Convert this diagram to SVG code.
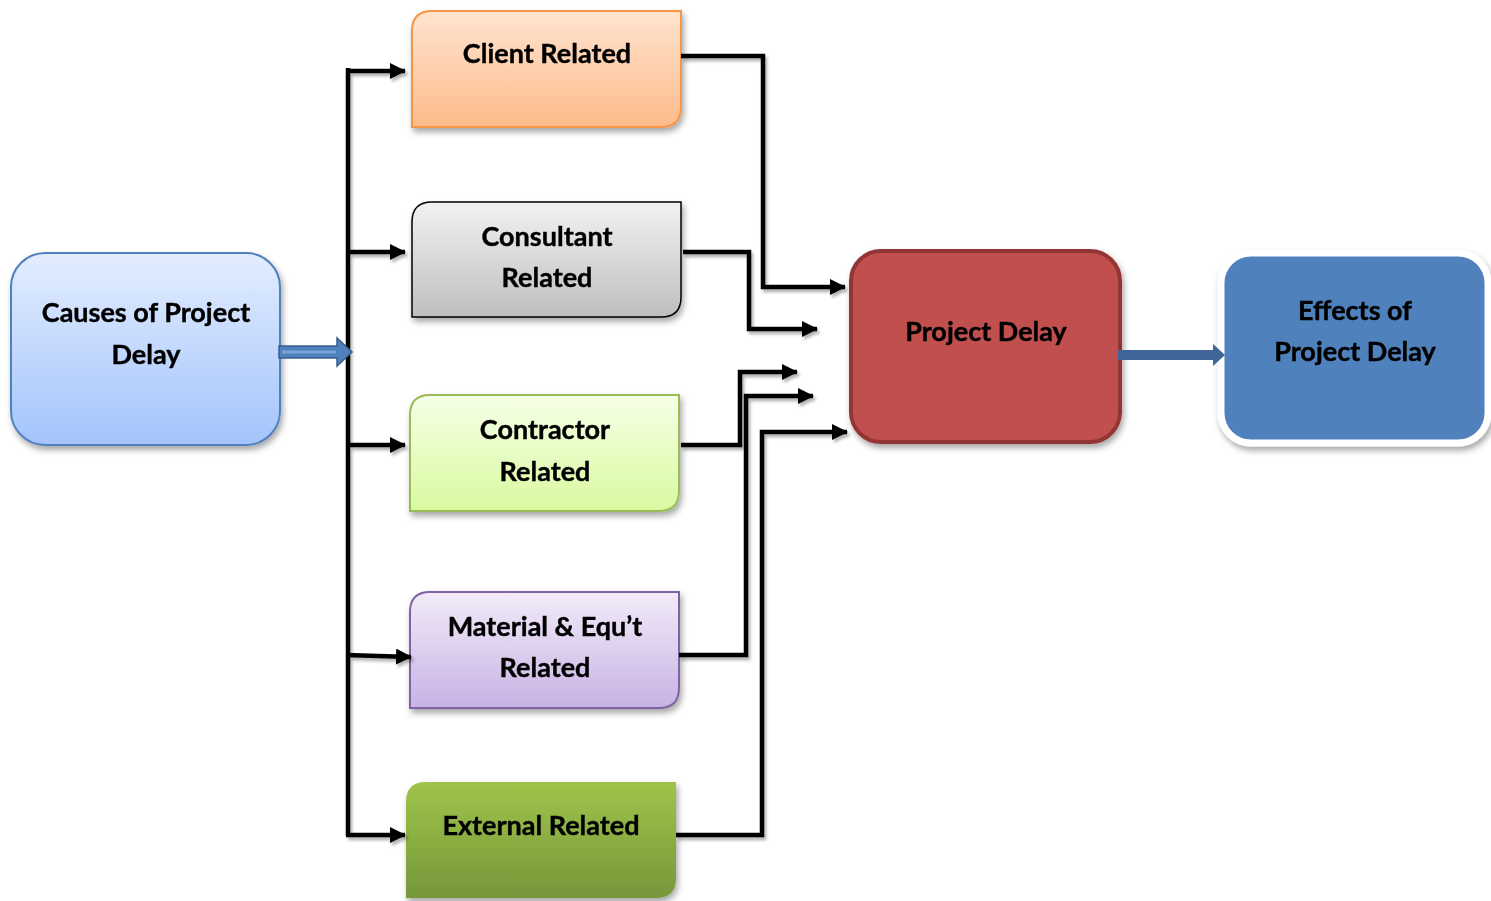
<svg xmlns="http://www.w3.org/2000/svg" width="1491" height="901" viewBox="0 0 1491 901">
  <defs>
    <style>
      .lbl { font-family: Lato, "Open Sans", "Liberation Sans", sans-serif; font-weight: bold; font-size: 27px; fill: #000; text-anchor: middle; stroke: #000; stroke-width: 0.4; }
      .wire { fill: none; stroke: #000; stroke-width: 4.5; stroke-linejoin: miter; }
    </style>
    <filter id="shadow" x="-10%" y="-10%" width="130%" height="130%">
      <feDropShadow dx="2" dy="4" stdDeviation="3" flood-color="#000" flood-opacity="0.35"/>
    </filter>
    <filter id="lineShadow" x="-10%" y="-10%" width="130%" height="130%">
      <feDropShadow dx="2" dy="3" stdDeviation="1.5" flood-color="#000" flood-opacity="0.3"/>
    </filter>
    <marker id="head" markerUnits="userSpaceOnUse" markerWidth="16" markerHeight="16" viewBox="0 0 16 16" refX="15" refY="8" orient="auto">
      <path d="M0,0 L16,8 L0,16 Z" fill="#000"/>
    </marker>
    <linearGradient id="gCauses" x1="0" y1="0" x2="0" y2="1">
      <stop offset="0" stop-color="#e3edff"/>
      <stop offset="1" stop-color="#a3c4fb"/>
    </linearGradient>
    <linearGradient id="gClient" x1="0" y1="0" x2="0" y2="1">
      <stop offset="0" stop-color="#ffe4cf"/>
      <stop offset="1" stop-color="#fdbb8b"/>
    </linearGradient>
    <linearGradient id="gConsult" x1="0" y1="0" x2="0" y2="1">
      <stop offset="0" stop-color="#f2f2f2"/>
      <stop offset="1" stop-color="#bebebe"/>
    </linearGradient>
    <linearGradient id="gContract" x1="0" y1="0" x2="0" y2="1">
      <stop offset="0" stop-color="#f6ffe8"/>
      <stop offset="1" stop-color="#d8fa9f"/>
    </linearGradient>
    <linearGradient id="gMaterial" x1="0" y1="0" x2="0" y2="1">
      <stop offset="0" stop-color="#f2ebf9"/>
      <stop offset="1" stop-color="#c8b2e4"/>
    </linearGradient>
    <linearGradient id="gExternal" x1="0" y1="0" x2="0" y2="1">
      <stop offset="0" stop-color="#9fc44a"/>
      <stop offset="1" stop-color="#76973a"/>
    </linearGradient>
  </defs>

  <rect width="1491" height="901" fill="#fff"/>

  <g id="causes" filter="url(#shadow)">
    <rect x="11" y="253" width="269" height="192" rx="34" fill="url(#gCauses)" stroke="#4f81bd" stroke-width="2"/>
    <text class="lbl" x="146" y="322">Causes of Project</text>
    <text class="lbl" x="146" y="364">Delay</text>
  </g>

  <g id="client" filter="url(#shadow)">
    <path d="M432,11 H681 V107 Q681,127 661,127 H412 V31 Q412,11 432,11 Z" fill="url(#gClient)" stroke="#f79646" stroke-width="2"/>
    <text class="lbl" x="547" y="63">Client Related</text>
  </g>

  <g id="consultant" filter="url(#shadow)">
    <path d="M432,202 H681 V297 Q681,317 661,317 H412 V222 Q412,202 432,202 Z" fill="url(#gConsult)" stroke="#000" stroke-width="1.5"/>
    <text class="lbl" x="547" y="246">Consultant</text>
    <text class="lbl" x="547" y="287">Related</text>
  </g>

  <g id="contractor" filter="url(#shadow)">
    <path d="M430,395 H679 V491 Q679,511 659,511 H410 V415 Q410,395 430,395 Z" fill="url(#gContract)" stroke="#9bbb59" stroke-width="2"/>
    <text class="lbl" x="545" y="439">Contractor</text>
    <text class="lbl" x="545" y="481">Related</text>
  </g>

  <g id="material" filter="url(#shadow)">
    <path d="M430,592 H679 V688 Q679,708 659,708 H410 V612 Q410,592 430,592 Z" fill="url(#gMaterial)" stroke="#8064a2" stroke-width="2"/>
    <text class="lbl" x="545" y="636">Material &amp; Equ’t</text>
    <text class="lbl" x="545" y="677">Related</text>
  </g>

  <g id="external" filter="url(#shadow)">
    <path d="M426,782 H676 V878 Q676,898 656,898 H406 V802 Q406,782 426,782 Z" fill="url(#gExternal)"/>
    <text class="lbl" x="541" y="835">External Related</text>
  </g>

  <g id="project-delay" filter="url(#shadow)">
    <rect x="851" y="251" width="269" height="191" rx="30" fill="#c0504d" stroke="#943634" stroke-width="4"/>
    <text class="lbl" x="986" y="341">Project Delay</text>
  </g>

  <g id="effects" filter="url(#shadow)">
    <rect x="1221" y="253" width="267" height="190" rx="30" fill="#4f81bd" stroke="#fff" stroke-width="7"/>
    <text class="lbl" x="1355" y="320">Effects of</text>
    <text class="lbl" x="1355" y="361">Project Delay</text>
  </g>

  <!-- connectors -->
  <g id="connectors">
    <g filter="url(#lineShadow)">
      <!-- trunk and branches to the cause groups -->
      <path class="wire" d="M348,68 V836"/>
      <path class="wire" d="M346,71 H405" marker-end="url(#head)"/>
      <path class="wire" d="M346,252 H405" marker-end="url(#head)"/>
      <path class="wire" d="M346,445 H405" marker-end="url(#head)"/>
      <path class="wire" d="M346,655 L411,657" marker-end="url(#head)"/>
      <path class="wire" d="M346,835 H405" marker-end="url(#head)"/>
      <!-- cause groups into Project Delay -->
      <path class="wire" d="M681,56 H763 V287 H845" marker-end="url(#head)"/>
      <path class="wire" d="M683,252 H749 V329 H817" marker-end="url(#head)"/>
      <path class="wire" d="M681,445 H740 V372 H797" marker-end="url(#head)"/>
      <path class="wire" d="M679,655 H746 V396 H813" marker-end="url(#head)"/>
      <path class="wire" d="M676,835 H762 V432 H847" marker-end="url(#head)"/>
    </g>
    <!-- block arrow: causes to trunk -->
    <path d="M279,346 H337 V338 L352,352 L337,366 V358 H279 Z" fill="#4f81bd" stroke="#385d8a" stroke-width="1.5"/>
    <path d="M282,352 H336" stroke="#7ea3d6" stroke-width="3"/>
    <!-- block arrow: Project Delay to Effects -->
    <path d="M1118,350 H1213 V344 L1225,355 L1213,366 V360 H1118 Z" fill="#3f6696"/>
  </g>
</svg>
